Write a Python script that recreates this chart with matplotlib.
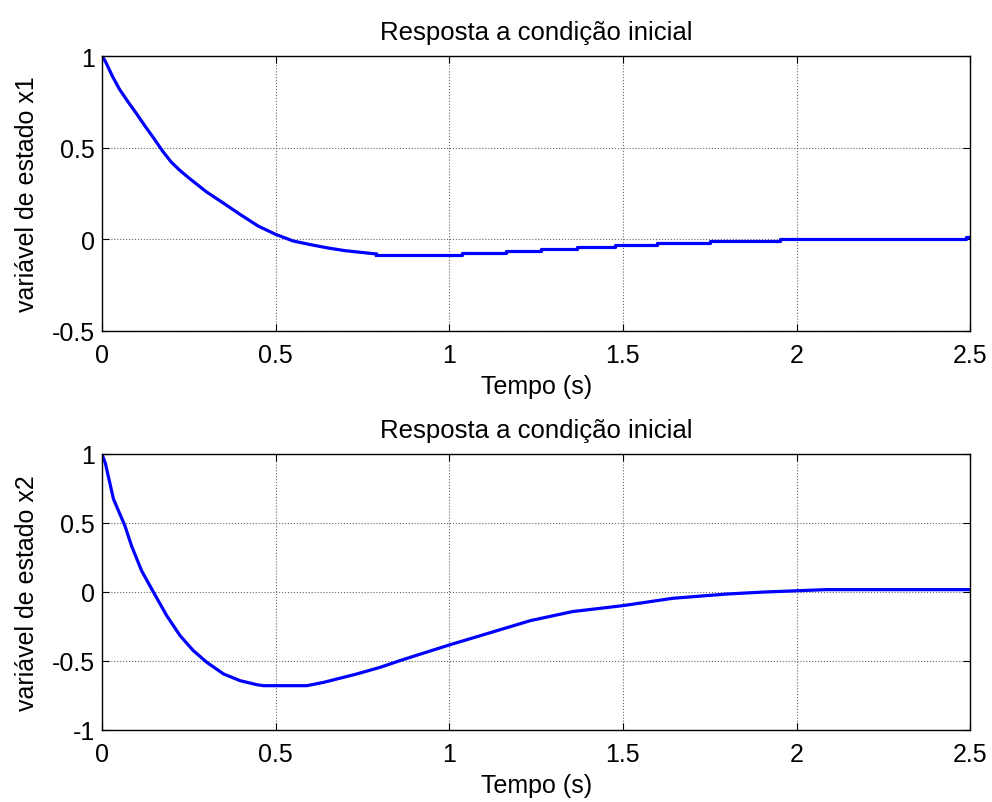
import matplotlib
matplotlib.use('agg')
from matplotlib import pyplot as plt

plt.rcParams['font.family'] = ['Liberation Sans', 'DejaVu Sans']
plt.rcParams['font.size'] = 18

# x1: smooth part then stair-like tail
t1 = [0.0, 0.01, 0.02, 0.03, 0.05, 0.075, 0.1, 0.125, 0.15, 0.175, 0.2, 0.225, 0.25, 0.3, 0.35,
      0.4, 0.45, 0.5, 0.55, 0.6, 0.65, 0.7, 0.75, 0.79]
x1 = [1.0, 0.97, 0.93, 0.89, 0.82, 0.75, 0.684, 0.615, 0.549, 0.48, 0.42, 0.375, 0.335, 0.26, 0.197,
      0.133, 0.072, 0.027, -0.009, -0.029, -0.047, -0.062, -0.072, -0.08]
t1_tail = [0.79, 1.036, 1.162, 1.264, 1.368, 1.476, 1.598, 1.751, 1.952, 2.488, 2.5]
x1_tail = [-0.087, -0.074, -0.062, -0.053, -0.042, -0.031, -0.020, -0.009, 0.0, 0.01, 0.01]

# x2
t2 = [0.0, 0.01, 0.033, 0.066, 0.085, 0.114, 0.148, 0.186, 0.225, 0.263, 0.302, 0.35,
      0.398, 0.446, 0.465, 0.59, 0.638, 0.734, 0.801, 0.867, 1.0, 1.089, 1.233, 1.355,
      1.5, 1.643, 1.798, 1.91, 2.086, 2.5]
x2 = [1.0, 0.93, 0.674, 0.48, 0.335, 0.154, 0.0, -0.17, -0.317, -0.425, -0.51, -0.594,
      -0.643, -0.672, -0.679, -0.679, -0.655, -0.594, -0.546, -0.49, -0.384, -0.317,
      -0.208, -0.142, -0.099, -0.046, -0.015, 0.0, 0.017, 0.017]

fig = plt.figure(figsize=(9.92, 8.03), dpi=100)
ax1 = fig.add_axes([0.1028, 0.5866, 0.8752, 0.3424])
ax2 = fig.add_axes([0.1028, 0.0897, 0.8752, 0.3437])

ax1.plot(t1, x1, color='#0000ff', linewidth=2.3)
ax1.plot(t1_tail, x1_tail, color='#0000ff', linewidth=2.3, drawstyle='steps-post')
ax1.set_ylim(-0.5, 1)
ax1.set_yticks([-0.5, 0, 0.5, 1])
ax1.set_yticklabels(['-0.5', '0', '0.5', '1'])
ax1.set_ylabel('variável de estado x1', labelpad=9)

ax2.plot(t2, x2, color='#0000ff', linewidth=2.3)
ax2.set_ylim(-1, 1)
ax2.set_yticks([-1, -0.5, 0, 0.5, 1])
ax2.set_yticklabels(['-1', '-0.5', '0', '0.5', '1'])
ax2.set_ylabel('variável de estado x2', labelpad=9)

for ax in (ax1, ax2):
    ax.set_xlim(0, 2.5)
    ax.set_xticks([0, 0.5, 1, 1.5, 2, 2.5])
    ax.set_xticklabels(['0', '0.5', '1', '1.5', '2', '2.5'])
    ax.set_title('Resposta a condição inicial', fontsize=18.5, pad=12)
    ax.set_xlabel('Tempo (s)', labelpad=5)
    ax.grid(True, linestyle=':', color='#666666', linewidth=0.8)
    ax.tick_params(direction='in', top=True, right=True, length=5, width=0.8)
    ax.tick_params(axis='x', pad=8.5)
    ax.tick_params(axis='y', pad=5)
    for s in ax.spines.values():
        s.set_linewidth(1.0)

plt.savefig('out.png', dpi=100)
